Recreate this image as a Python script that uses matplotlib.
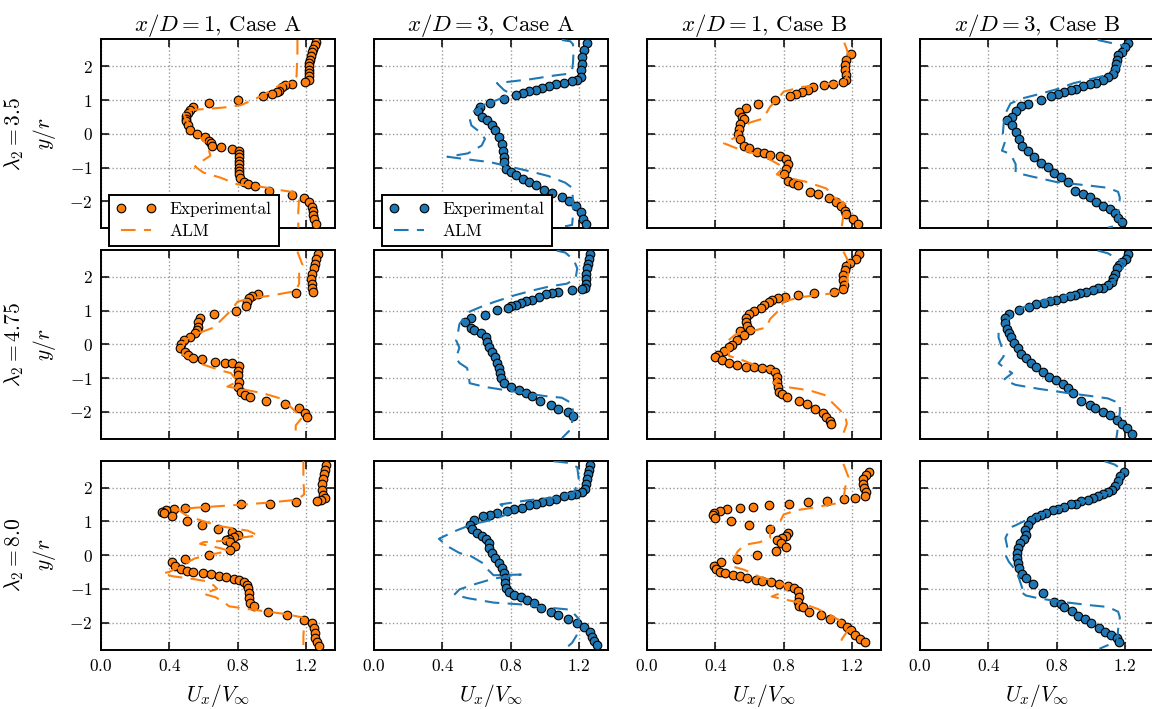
import numpy as np
import matplotlib.pyplot as plt

plt.rcParams["font.family"] = "serif"
plt.rcParams["font.serif"] = ["cmr10"]
plt.rcParams["mathtext.fontset"] = "cm"
plt.rcParams["axes.formatter.use_mathtext"] = True

ORANGE = "#ff7f0e"
BLUE = "#1f77b4"

col_titles = [r"$x/D = 1$, Case A", r"$x/D = 3$, Case A",
              r"$x/D = 1$, Case B", r"$x/D = 3$, Case B"]
tsr_labels = ["3.5", "4.75", "8.0"]
x_ticks = [0.0, 0.4, 0.8, 1.2]
y_ticks = [-2, -1, 0, 1, 2]

# ---- lambda = 3.5 ----
exp_35_x1a = [(1.26,2.72),(1.25,2.62),(1.24,2.52),(1.235,2.42),(1.23,2.3),(1.225,2.2),(1.22,2.1),(1.22,2.0),
              (1.22,1.9),(1.22,1.8),(1.22,1.7),(1.215,1.6),(1.195,1.53),(1.12,1.49),(1.075,1.45),(1.06,1.38),
              (1.045,1.28),(1.03,1.23),(1.0,1.19),(0.95,1.13),(0.805,1.01),(0.635,0.91),(0.54,0.79),(0.52,0.70),
              (0.51,0.62),(0.50,0.54),(0.50,0.45),(0.50,0.38),(0.51,0.25),(0.52,0.12),(0.56,0.0),(0.61,-0.10),
              (0.63,-0.2),(0.645,-0.28),(0.65,-0.36),(0.70,-0.40),(0.765,-0.45),(0.81,-0.5),(0.81,-0.6),(0.81,-0.7),
              (0.81,-0.8),(0.81,-0.9),(0.81,-1.0),(0.81,-1.1),(0.81,-1.2),(0.815,-1.3),(0.835,-1.42),(0.86,-1.5),
              (0.9,-1.56),(0.985,-1.68),(1.12,-1.8),(1.19,-1.9),(1.22,-2.03),(1.235,-2.18),(1.24,-2.3),(1.24,-2.4),
              (1.245,-2.52),(1.26,-2.67)]
alm_35_x1a = [(1.15,2.78),(1.15,2.4),(1.147,2.0),(1.145,1.7),(1.12,1.55),(1.05,1.45),(0.95,1.15),(0.9,1.03),
              (0.82,0.85),(0.72,0.78),(0.63,0.74),(0.48,0.69),(0.49,0.5),(0.52,0.25),(0.56,0.0),(0.6,-0.2),
              (0.63,-0.45),(0.64,-0.65),(0.58,-0.85),(0.55,-0.97),(0.6,-1.15),(0.7,-1.3),(0.8,-1.5),(0.95,-1.58),
              (1.05,-1.67),(1.13,-1.73),(1.16,-1.9),(1.155,-2.3),(1.155,-2.78)]
exp_35_x3a = [(1.247,2.69),(1.23,2.48),(1.22,2.28),(1.216,2.08),(1.21,1.88),(1.21,1.68),(1.19,1.58),(1.16,1.56),
              (1.11,1.51),(1.065,1.47),(1.025,1.41),(0.986,1.37),(0.947,1.31),(0.91,1.26),(0.87,1.21),(0.83,1.14),
              (0.76,1.02),(0.68,0.92),(0.62,0.79),(0.61,0.67),(0.63,0.51),(0.66,0.42),(0.69,0.25),(0.71,0.1),
              (0.73,-0.1),(0.75,-0.3),(0.757,-0.5),(0.76,-0.69),(0.76,-0.84),(0.77,-1.04),(0.80,-1.14),(0.83,-1.21),
              (0.87,-1.34),(0.91,-1.44),(0.947,-1.53),(0.996,-1.66),(1.045,-1.76),(1.10,-1.88),(1.14,-2.0),
              (1.18,-2.15),(1.21,-2.33),(1.225,-2.52),(1.24,-2.67)]
alm_35_x3a = [(1.10,2.78),(1.15,2.74),(1.165,2.65),(1.168,2.4),(1.165,2.1),(1.16,1.9),(1.14,1.78),(1.06,1.73),
              (0.92,1.62),(0.72,1.5),(0.76,1.3),(0.80,1.18),(0.72,1.0),(0.64,0.85),(0.58,0.65),(0.56,0.45),
              (0.57,0.25),(0.62,0.05),(0.65,-0.15),(0.63,-0.35),(0.55,-0.58),(0.43,-0.68),(0.55,-0.76),(0.68,-0.84),
              (0.80,-0.98),(0.92,-1.12),(1.02,-1.25),(1.12,-1.45),(1.16,-1.6),(1.165,-2.0),(1.165,-2.4),(1.16,-2.7),
              (1.08,-2.78)]
exp_35_x1b = [(1.193,2.36),(1.163,2.18),(1.157,2.03),(1.157,1.88),(1.163,1.73),(1.167,1.58),(1.147,1.53),(1.09,1.49),
              (1.035,1.44),(0.97,1.39),(0.94,1.31),(0.91,1.24),(0.87,1.19),(0.836,1.11),(0.75,1.01),(0.65,0.89),
              (0.577,0.77),(0.537,0.64),(0.557,0.5),(0.567,0.45),(0.547,0.3),(0.537,0.15),(0.533,0.0),(0.547,-0.15),
              (0.567,-0.35),(0.596,-0.42),(0.646,-0.54),(0.685,-0.57),(0.72,-0.64),(0.777,-0.67),(0.813,-0.74),
              (0.827,-0.89),(0.813,-1.04),(0.803,-1.19),(0.823,-1.39),(0.852,-1.47),(0.886,-1.53),(0.955,-1.73),
              (1.0,-1.78),(1.065,-1.9),(1.108,-2.03),(1.138,-2.13),(1.157,-2.28),(1.167,-2.38),(1.207,-2.52),
              (1.236,-2.67)]
alm_35_x1b = [(1.155,2.7),(1.17,2.5),(1.18,2.3),(1.175,2.0),(1.17,1.7),(1.14,1.52),(1.0,1.45),(0.9,1.38),(0.8,1.25),
              (0.76,1.0),(0.72,0.8),(0.68,0.45),(0.6,0.33),(0.54,0.1),(0.52,-0.1),(0.45,-0.28),(0.52,-0.42),
              (0.6,-0.54),(0.7,-0.7),(0.75,-0.85),(0.8,-0.99),(0.76,-1.2),(0.8,-1.28),(0.93,-1.42),(1.05,-1.62),
              (1.1,-1.9),(1.17,-2.1),(1.15,-2.4),(1.14,-2.78)]
exp_35_x3b = [(1.217,2.69),(1.2,2.57),(1.18,2.43),(1.16,2.33),(1.152,2.18),(1.146,2.08),(1.142,1.93),(1.13,1.78),
              (1.10,1.68),(1.07,1.58),(1.03,1.5),(0.994,1.47),(0.955,1.41),(0.915,1.34),(0.886,1.29),(0.846,1.24),
              (0.807,1.19),(0.768,1.12),(0.709,1.01),(0.63,0.89),(0.59,0.81),(0.561,0.67),(0.541,0.51),(0.512,0.42),
              (0.541,0.25),(0.561,0.05),(0.58,-0.15),(0.60,-0.35),(0.63,-0.51),(0.67,-0.69),(0.709,-0.87),
              (0.748,-0.99),(0.787,-1.17),(0.827,-1.29),(0.866,-1.44),(0.906,-1.68),(0.955,-1.78),(0.994,-1.88),
              (1.03,-2.01),(1.07,-2.13),(1.11,-2.23),(1.142,-2.36),(1.16,-2.48),(1.18,-2.62)]
alm_35_x3b = [(1.04,2.78),(1.13,2.68),(1.2,2.6),(1.2,2.3),(1.16,1.95),(1.1,1.75),(1.0,1.62),(0.9,1.5),(0.8,1.32),
              (0.7,1.18),(0.6,1.05),(0.53,0.9),(0.5,0.6),(0.49,0.3),(0.485,0.0),(0.5,-0.2),(0.48,-0.5),(0.53,-0.6),
              (0.56,-0.9),(0.56,-1.15),(0.65,-1.26),(0.8,-1.43),(1.0,-1.54),(1.1,-1.6),(1.16,-1.72),(1.17,-1.9),
              (1.16,-2.3),(1.17,-2.7),(1.1,-2.78)]

# ---- lambda = 4.75 ----
exp_475_x1a = [(1.268,2.69),(1.26,2.54),(1.255,2.39),(1.245,2.25),(1.235,2.1),(1.23,1.95),(1.235,1.8),(1.235,1.66),
               (1.24,1.56),(1.143,1.51),(0.917,1.49),(0.883,1.43),(0.864,1.36),(0.854,1.26),(0.848,1.13),(0.79,1.0),
               (0.66,0.89),(0.577,0.79),(0.567,0.67),(0.565,0.52),(0.56,0.42),(0.55,0.33),(0.52,0.23),(0.487,0.13),
               (0.47,0.0),(0.465,-0.12),(0.49,-0.22),(0.508,-0.32),(0.54,-0.39),(0.59,-0.43),(0.668,-0.51),
               (0.727,-0.54),(0.766,-0.56),(0.81,-0.64),(0.805,-0.79),(0.80,-0.91),(0.81,-1.1),(0.805,-1.25),
               (0.82,-1.4),(0.844,-1.5),(0.87,-1.55),(0.966,-1.68),(1.08,-1.78),(1.16,-1.89),(1.196,-2.02),
               (1.206,-2.14)]
alm_475_x1a = [(1.15,2.75),(1.18,2.35),(1.16,2.15),(1.16,1.8),(1.14,1.58),(1.0,1.45),(0.9,1.38),(0.8,1.27),
               (0.76,1.0),(0.72,0.8),(0.66,0.5),(0.58,0.35),(0.5,0.15),(0.46,-0.25),(0.53,-0.45),(0.6,-0.6),
               (0.7,-0.77),(0.76,-0.85),(0.8,-1.1),(0.74,-1.25),(0.85,-1.35),(0.95,-1.45),(1.05,-1.6),(1.1,-1.8),
               (1.15,-2.05),(1.18,-2.15),(1.14,-2.4),(1.14,-2.78)]
exp_475_x3a = [(1.267,2.67),(1.26,2.54),(1.25,2.39),(1.247,2.25),(1.24,2.1),(1.24,1.95),(1.24,1.8),(1.235,1.66),
               (1.216,1.64),(1.157,1.61),(1.08,1.56),(1.04,1.51),(1.006,1.48),(0.967,1.41),(0.927,1.33),(0.888,1.28),
               (0.859,1.24),(0.83,1.18),(0.8,1.13),(0.784,1.08),(0.72,1.01),(0.65,0.87),(0.57,0.77),(0.535,0.67),
               (0.565,0.5),(0.584,0.42),(0.624,0.33),(0.653,0.23),(0.663,0.08),(0.672,-0.07),(0.692,-0.22),
               (0.706,-0.36),(0.718,-0.56),(0.73,-0.71),(0.737,-0.86),(0.741,-1.0),(0.76,-1.15),(0.8,-1.25),
               (0.849,-1.35),(0.888,-1.43),(0.927,-1.53),(0.973,-1.69),(1.035,-1.79),(1.078,-1.92),(1.133,-1.99),
               (1.163,-2.12)]
alm_475_x3a = [(1.07,2.78),(1.12,2.72),(1.17,2.5),(1.19,2.25),(1.18,1.95),(1.13,1.8),(1.03,1.72),(0.93,1.6),
               (0.82,1.45),(0.7,1.25),(0.62,1.1),(0.55,0.95),(0.5,0.6),(0.49,0.3),(0.48,0.13),(0.5,-0.1),(0.48,-0.4),
               (0.5,-0.55),(0.545,-0.7),(0.555,-0.95),(0.56,-1.15),(0.65,-1.26),(0.8,-1.38),(1.0,-1.53),(1.1,-1.58),
               (1.16,-1.75),(1.165,-2.0),(1.155,-2.5),(1.1,-2.78)]
exp_475_x1b = [(1.24,2.67),(1.222,2.54),(1.187,2.41),(1.167,2.32),(1.157,2.2),(1.148,2.05),(1.148,1.9),(1.152,1.75),
               (1.148,1.63),(1.094,1.56),(0.98,1.51),(0.882,1.46),(0.807,1.41),(0.768,1.36),(0.734,1.31),(0.715,1.26),
               (0.685,1.16),(0.665,1.09),(0.626,1.0),(0.597,0.9),(0.577,0.77),(0.577,0.67),(0.587,0.54),(0.602,0.44),
               (0.547,0.4),(0.567,0.28),(0.528,0.13),(0.498,-0.02),(0.478,-0.07),(0.449,-0.2),(0.413,-0.32),
               (0.4,-0.38),(0.439,-0.46),(0.478,-0.54),(0.528,-0.61),(0.577,-0.66),(0.626,-0.68),(0.675,-0.71),
               (0.72,-0.73),(0.75,-0.81),(0.764,-0.96),(0.764,-1.1),(0.768,-1.25),(0.774,-1.4),(0.793,-1.47),
               (0.819,-1.55),(0.888,-1.67),(0.937,-1.78),(0.984,-1.9),(1.03,-2.02),(1.05,-2.14),(1.07,-2.26),
               (1.08,-2.35)]
alm_475_x1b = [(1.15,2.75),(1.19,2.35),(1.175,2.0),(1.17,1.7),(1.1,1.52),(1.0,1.46),(0.9,1.4),(0.8,1.27),(0.77,1.0),
               (0.72,0.75),(0.7,0.5),(0.6,0.38),(0.52,0.3),(0.46,0.05),(0.48,-0.2),(0.48,-0.34),(0.56,-0.47),
               (0.65,-0.65),(0.72,-0.73),(0.78,-0.9),(0.74,-1.15),(0.8,-1.25),(0.95,-1.36),(1.04,-1.5),(1.1,-1.8),
               (1.16,-2.1),(1.17,-2.35),(1.14,-2.78)]
exp_475_x3b = [(1.217,2.67),(1.205,2.54),(1.185,2.44),(1.167,2.34),(1.152,2.25),(1.142,2.1),(1.132,1.98),(1.122,1.85),
               (1.102,1.75),(1.073,1.67),(1.043,1.66),(1.014,1.61),(0.974,1.56),(0.935,1.51),(0.906,1.46),(0.876,1.43),
               (0.837,1.36),(0.797,1.31),(0.762,1.28),(0.728,1.24),(0.679,1.19),(0.64,1.11),(0.581,1.01),(0.522,0.9),
               (0.496,0.77),(0.496,0.62),(0.508,0.47),(0.522,0.33),(0.531,0.21),(0.551,0.03),(0.571,-0.12),
               (0.59,-0.27),(0.62,-0.41),(0.65,-0.54),(0.679,-0.66),(0.718,-0.81),(0.758,-0.96),(0.797,-1.05),
               (0.837,-1.17),(0.866,-1.3),(0.896,-1.45),(0.945,-1.69),(0.994,-1.79),(1.024,-1.89),(1.069,-1.99),
               (1.112,-2.09),(1.152,-2.24),(1.181,-2.35),(1.211,-2.48),(1.24,-2.66)]
alm_475_x3b = [(1.04,2.78),(1.1,2.7),(1.2,2.4),(1.17,2.1),(1.12,1.8),(1.0,1.6),(0.85,1.45),(0.7,1.28),(0.58,1.05),
               (0.53,0.8),(0.46,0.45),(0.46,0.2),(0.48,-0.1),(0.49,-0.35),(0.46,-0.56),(0.5,-0.72),(0.54,-0.85),
               (0.49,-1.05),(0.56,-1.2),(0.7,-1.32),(0.85,-1.43),(1.0,-1.53),(1.1,-1.6),(1.17,-1.75),(1.17,-2.0),
               (1.16,-2.4),(1.15,-2.78)]

# ---- lambda = 8.0 ----
exp_80_x1a = [(1.319,2.68),(1.31,2.53),(1.303,2.39),(1.3,2.24),(1.294,2.09),(1.294,1.94),(1.3,1.79),(1.313,1.69),
              (1.29,1.64),(1.264,1.61),(1.143,1.57),(0.99,1.52),(0.82,1.5),(0.606,1.43),(0.49,1.39),(0.428,1.35),
              (0.38,1.32),(0.356,1.27),(0.371,1.25),(0.418,1.15),(0.506,1.0),(0.59,0.9),(0.684,0.78),(0.766,0.67),
              (0.8,0.6),(0.776,0.53),(0.747,0.48),(0.731,0.44),(0.756,0.38),(0.786,0.26),(0.756,0.16),(0.63,0.0),
              (0.49,-0.11),(0.418,-0.21),(0.434,-0.34),(0.469,-0.41),(0.502,-0.46),(0.541,-0.49),(0.6,-0.53),
              (0.645,-0.56),(0.688,-0.61),(0.733,-0.66),(0.776,-0.71),(0.809,-0.75),(0.838,-0.81),(0.854,-0.88),
              (0.86,-0.98),(0.864,-1.13),(0.868,-1.28),(0.874,-1.43),(0.897,-1.52),(0.975,-1.69),(1.089,-1.77),
              (1.186,-1.92),(1.235,-2.02),(1.245,-2.17),(1.25,-2.32),(1.255,-2.47),(1.264,-2.59),(1.274,-2.69)]
alm_80_x1a = [(1.185,2.78),(1.185,2.2),(1.19,1.8),(1.15,1.64),(1.0,1.56),(0.85,1.5),(0.7,1.45),(0.55,1.4),
              (0.45,1.35),(0.5,1.17),(0.6,1.0),(0.7,0.85),(0.8,0.77),(0.86,0.72),(0.92,0.58),(0.8,0.5),(0.72,0.42),
              (0.6,0.38),(0.58,0.33),(0.7,0.2),(0.75,0.12),(0.63,0.0),(0.55,-0.1),(0.4,-0.5),(0.36,-0.55),
              (0.42,-0.63),(0.55,-0.72),(0.62,-0.78),(0.66,-0.9),(0.68,-1.0),(0.6,-1.15),(0.67,-1.25),(0.72,-1.4),
              (0.75,-1.52),(0.86,-1.6),(0.95,-1.66),(1.08,-1.75),(1.18,-1.85),(1.19,-2.0),(1.185,-2.4),(1.185,-2.78)]
exp_80_x3a = [(1.267,2.68),(1.26,2.53),(1.255,2.39),(1.247,2.24),(1.24,2.09),(1.235,1.96),(1.216,1.87),(1.182,1.81),
              (1.153,1.79),(1.114,1.74),(1.065,1.66),(1.025,1.61),(0.986,1.56),(0.947,1.51),(0.908,1.47),(0.869,1.4),
              (0.82,1.35),(0.78,1.3),(0.722,1.23),(0.682,1.2),(0.64,1.15),(0.588,1.03),(0.56,0.9),(0.574,0.78),
              (0.604,0.65),(0.633,0.55),(0.653,0.48),(0.672,0.36),(0.672,0.21),(0.692,0.06),(0.706,-0.09),
              (0.731,-0.24),(0.75,-0.39),(0.76,-0.53),(0.765,-0.68),(0.765,-0.83),(0.771,-0.98),(0.79,-1.11),
              (0.82,-1.18),(0.86,-1.23),(0.898,-1.33),(0.937,-1.43),(0.98,-1.57),(1.035,-1.7),(1.08,-1.79),
              (1.133,-1.9),(1.188,-2.02),(1.231,-2.12),(1.265,-2.27),(1.275,-2.42),(1.286,-2.56),(1.306,-2.66)]
alm_80_x3a = [(1.05,2.78),(1.14,2.73),(1.19,2.6),(1.2,2.2),(1.17,1.85),(1.05,1.7),(0.9,1.62),(0.74,1.5),(0.8,1.25),
              (0.7,1.05),(0.58,0.92),(0.47,0.7),(0.38,0.48),(0.43,0.26),(0.5,0.06),(0.57,-0.04),(0.64,-0.25),
              (0.66,-0.4),(0.7,-0.6),(0.86,-0.58),(0.7,-0.7),(0.58,-0.88),(0.5,-1.02),(0.47,-1.18),(0.55,-1.28),
              (0.7,-1.41),(0.85,-1.46),(1.0,-1.55),(1.15,-1.62),(1.2,-1.9),(1.19,-2.35),(1.16,-2.6),(1.12,-2.78)]
exp_80_x1b = [(1.301,2.46),(1.285,2.36),(1.266,2.24),(1.266,2.11),(1.272,1.99),(1.28,1.86),(1.276,1.76),(1.22,1.69),
              (1.154,1.66),(1.053,1.59),(0.941,1.56),(0.829,1.52),(0.715,1.48),(0.62,1.42),(0.547,1.38),(0.469,1.35),
              (0.425,1.29),(0.394,1.25),(0.384,1.19),(0.4,1.1),(0.494,1.02),(0.596,0.88),(0.72,0.77),(0.827,0.65),
              (0.813,0.57),(0.793,0.5),(0.764,0.44),(0.787,0.36),(0.813,0.24),(0.758,0.11),(0.646,0.0),(0.528,-0.12),
              (0.435,-0.21),(0.39,-0.34),(0.405,-0.42),(0.425,-0.49),(0.459,-0.53),(0.504,-0.59),(0.547,-0.63),
              (0.583,-0.68),(0.636,-0.73),(0.675,-0.76),(0.724,-0.81),(0.774,-0.86),(0.827,-0.91),(0.862,-0.98),
              (0.882,-1.08),(0.891,-1.23),(0.882,-1.38),(0.891,-1.5),(0.911,-1.55),(0.95,-1.69),(1.016,-1.79),
              (1.069,-1.9),(1.134,-2.02),(1.173,-2.12),(1.197,-2.22),(1.217,-2.37),(1.246,-2.5),(1.276,-2.59)]
alm_80_x1b = [(1.15,2.7),(1.18,2.3),(1.16,2.0),(1.15,1.65),(1.1,1.52),(0.97,1.4),(0.88,1.33),(0.8,1.2),(0.78,1.0),
              (0.72,0.8),(0.72,0.5),(0.66,0.38),(0.57,0.3),(0.53,0.1),(0.51,-0.1),(0.5,-0.34),(0.57,-0.44),
              (0.66,-0.65),(0.73,-0.75),(0.8,-0.85),(0.82,-1.05),(0.73,-1.23),(0.8,-1.31),(0.9,-1.42),(1.0,-1.6),
              (1.08,-1.8),(1.15,-2.0),(1.18,-2.2),(1.14,-2.5),(1.14,-2.78)]
exp_80_x3b = [(1.195,2.46),(1.171,2.34),(1.157,2.19),(1.142,2.04),(1.122,1.94),(1.098,1.86),(1.073,1.81),(1.043,1.74),
              (1.014,1.69),(0.984,1.64),(0.945,1.59),(0.915,1.52),(0.886,1.5),(0.846,1.43),(0.807,1.37),(0.778,1.32),
              (0.738,1.25),(0.709,1.2),(0.679,1.13),(0.65,1.05),(0.63,0.9),(0.614,0.75),(0.62,0.6),(0.61,0.48),
              (0.587,0.36),(0.571,0.21),(0.567,0.06),(0.567,-0.09),(0.571,-0.24),(0.58,-0.39),(0.6,-0.55),
              (0.62,-0.68),(0.659,-0.85),(0.718,-1.13),(0.783,-1.38),(0.827,-1.45),(0.846,-1.54),(0.89,-1.67),
              (0.925,-1.8),(0.965,-1.9),(1.0,-2.02),(1.049,-2.15),(1.083,-2.27),(1.118,-2.37),(1.152,-2.47),
              (1.165,-2.59)]
alm_80_x3b = [(1.08,2.78),(1.14,2.68),(1.19,2.5),(1.17,2.1),(1.1,1.85),(1.0,1.65),(0.9,1.5),(0.78,1.35),(0.65,1.1),
              (0.6,0.98),(0.56,0.88),(0.53,0.82),(0.5,0.5),(0.51,0.26),(0.5,0.0),(0.52,-0.2),(0.56,-0.45),
              (0.58,-0.7),(0.6,-1.0),(0.58,-1.05),(0.62,-1.2),(0.7,-1.29),(0.85,-1.4),(1.0,-1.49),(1.1,-1.54),
              (1.16,-1.68),(1.17,-1.85),(1.16,-2.2),(1.155,-2.55),(1.05,-2.78)]

exp_rows = [[exp_35_x1a, exp_35_x3a, exp_35_x1b, exp_35_x3b],
            [exp_475_x1a, exp_475_x3a, exp_475_x1b, exp_475_x3b],
            [exp_80_x1a, exp_80_x3a, exp_80_x1b, exp_80_x3b]]
alm_rows = [[alm_35_x1a, alm_35_x3a, alm_35_x1b, alm_35_x3b],
            [alm_475_x1a, alm_475_x3a, alm_475_x1b, alm_475_x3b],
            [alm_80_x1a, alm_80_x3a, alm_80_x1b, alm_80_x3b]]
col_colors = [ORANGE, BLUE, ORANGE, BLUE]

W, H = 1152, 709
fig = plt.figure(figsize=(W / 100, H / 100), dpi=100)

for r in range(3):
    for c in range(4):
        top = 39.3 + 210.6 * r
        ax = fig.add_axes([(101 + 273 * c) / W, 1 - (top + 189) / H, 234 / W, 189 / H])
        color = col_colors[c]
        ex, ey = np.array(exp_rows[r][c]).T
        lx, ly = np.array(alm_rows[r][c]).T
        ax.plot(ex, ey, "o", color=color, mec="k", mew=0.8, ms=6.2, label="Experimental", zorder=3)
        ax.plot(lx, ly, color=color, lw=1.5, ls=(0, (7, 4)), label="ALM", zorder=4)

        ax.set_xlim(0, 1.37)
        ax.set_ylim(-2.8, 2.8)
        ax.set_xticks(x_ticks)
        ax.set_yticks(y_ticks)
        ax.grid(True, ls=":", color="#999999", lw=1)
        ax.set_axisbelow(True)
        ax.tick_params(direction="in", top=True, right=True, length=5.5, width=1.1,
                       labelsize=12.5, pad=6)
        for s in ax.spines.values():
            s.set_linewidth(1.4)

        if r == 0:
            ax.set_title(col_titles[c], fontsize=16.5, pad=6)
        if r == 2:
            ax.set_xlabel(r"$U_x/V_\infty$", fontsize=15.5, labelpad=6)
        else:
            ax.set_xticklabels([])
        if c == 0:
            ax.set_ylabel(r"$\lambda_2 = %s$" % tsr_labels[r] + "\n" + r"$y/r$", fontsize=15.5,
                          labelpad=8, linespacing=1.3)
        else:
            ax.set_yticklabels([])
        if r == 0 and c in (0, 1):
            leg = ax.legend(loc="upper left", bbox_to_anchor=(0.034, 0.176), borderaxespad=0,
                            numpoints=2, fancybox=False, fontsize=12.5, handlelength=2.3,
                            borderpad=0.4, labelspacing=0.35)
            leg.get_frame().set_edgecolor("k")
            leg.get_frame().set_linewidth(1.4)
            leg.get_frame().set_alpha(1)
            leg.set_zorder(10)

fig.savefig("out.png", dpi=100)
